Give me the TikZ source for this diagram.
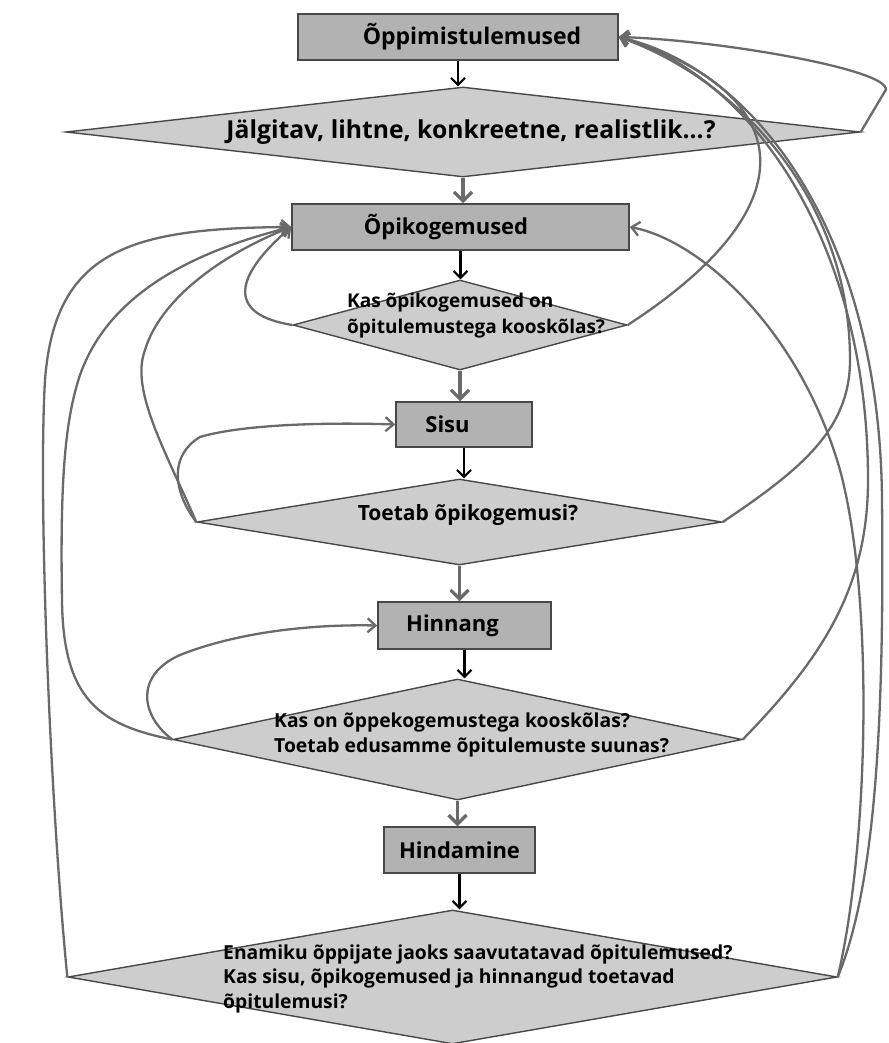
\documentclass[tikz,border=0pt]{standalone}
\usepackage{fontspec}
\setmainfont{Open Sans}
\usetikzlibrary{arrows.meta,shapes.geometric}
\definecolor{boxfill}{HTML}{B2B2B2}
\definecolor{diafill}{HTML}{CDCDCD}
\definecolor{edgecol}{HTML}{484848}
\definecolor{linkcol}{HTML}{6A6A6A}
\tikzset{
  box/.style={draw=edgecol, line width=1.5pt, fill=boxfill, minimum height=46pt, inner sep=0pt,
    font=\bfseries\fontsize{22}{26}\selectfont},
  dia/.style={diamond, draw=edgecol, line width=1.4pt, fill=diafill, inner sep=0pt},
  lab/.style={inner sep=0pt},
  flow/.style={draw=black, line width=2.1pt, -{Straight Barb[length=7pt,width=14pt]}},
  downlink/.style={draw=linkcol, line width=3.2pt, -{Straight Barb[length=9pt,width=18pt]}},
  back/.style={draw=linkcol, line width=2.3pt, -{Straight Barb[length=8pt,width=14pt]}}
}
\begin{document}
\begin{tikzpicture}[x=1pt,y=-1pt]
\useasboundingbox (0,0) rectangle (888,1043);
% boxes
\node[box, minimum width=320pt, font=\bfseries\fontsize{23}{27}\selectfont] (b1) at (458,37) {\hspace*{28pt}Õppimistulemused};
\node[box, minimum width=337pt] (b2) at (460.5,227) {Õpikogemused\hspace*{29pt}};
\node[box, minimum width=136pt, minimum height=45pt] (b3) at (464,424.5) {Sisu\hspace*{33pt}};
\node[box, minimum width=173pt, minimum height=47pt] (b4) at (464.5,625.5) {Hinnang\hspace*{24pt}};
\node[box, minimum width=151pt, minimum height=46pt] (b5) at (459.5,850) {Hindamine};
% diamonds
\node[dia, minimum width=794pt, minimum height=90pt] (d1) at (463,132) {};
\node[dia, minimum width=334pt, minimum height=90pt] (d2) at (460,325) {};
\node[dia, minimum width=525pt, minimum height=86pt] (d3) at (459.5,522) {};
\node[dia, minimum width=569pt, minimum height=121pt] (d4) at (457.5,739.5) {};
\node[dia, minimum width=769pt, minimum height=134pt] (d5) at (452.5,977) {};
% diamond texts
\node[lab, anchor=base, font=\bfseries\fontsize{24.7}{30}\selectfont] (t1) at (471,139) {Jälgitav, lihtne, konkreetne, realistlik...?};
\node[lab, anchor=base west, font=\bfseries\fontsize{19}{26}\selectfont] (t2) at (347,307)
  {\begin{tabular}[t]{@{}l@{}}Kas õpikogemused on\\õpitulemustega kooskõlas?\end{tabular}};
\node[lab, anchor=base, font=\bfseries\fontsize{21}{26}\selectfont] (t3) at (468,520) {Toetab õpikogemusi?};
\node[lab, anchor=base west, font=\bfseries\fontsize{19.3}{25}\selectfont] (t4) at (274,727)
  {\begin{tabular}[t]{@{}l@{}}Kas on õppekogemustega kooskõlas?\\Toetab edusamme õpitulemuste suunas?\end{tabular}};
\node[lab, anchor=base west, font=\bfseries\fontsize{19.3}{24.5}\selectfont] (t5) at (223,959)
  {\begin{tabular}[t]{@{}l@{}}Enamiku õppijate jaoks saavutatavad õpitulemused?\\Kas sisu, õpikogemused ja hinnangud toetavad\\õpitulemusi?\end{tabular}};
% main flow
\draw[flow] (b1.south) -- (b1.south |- d1.north);
\draw[downlink] (d1.south) -- (d1.south |- b2.north);
\draw[flow] (b2.south) -- (b2.south |- d2.north);
\draw[downlink] (d2.south) -- (d2.south |- b3.north);
\draw[flow] (b3.south) -- (b3.south |- d3.north);
\draw[downlink] (d3.south) -- (d3.south |- b4.north);
\draw[flow] (b4.south) -- (b4.south |- d4.north);
\draw[downlink] (d4.south) -- (d4.south |- b5.north);
\draw[flow] (b5.south) -- (b5.south |- d5.north);
% feedback to b1
\draw[back] (d1.east) -- ++(25,-42) .. controls (891,70) and (720,40) .. (b1.east);
\draw[back] (d2.east) .. controls (820,200) and (790,90) .. (b1.east);
\draw[back] (d3.east) .. controls (800,470) and (850,430) .. (850,360) .. controls (850,200) and (740,80) .. (b1.east);
\draw[back] (d4.east) .. controls (820,660) and (868,590) .. (868,480) .. controls (868,240) and (750,75) .. (b1.east);
\draw[back] (d5.east) .. controls (878,880) and (884,700) .. (882,500) .. controls (880,240) and (760,70) .. (b1.east);
% feedback to b2 east
\draw[back] (d5.east) .. controls (868,850) and (875,600) .. (840,470) .. controls (800,330) and (700,240) .. (b2.east);
% feedback to b2 west
\draw[back] (d5.west) .. controls (50,800) and (38,500) .. (45,380) .. controls (55,250) and (130,228) .. (b2.west);
\draw[back] (d4.west) .. controls (100,725) and (63,700) .. (62,600) .. controls (60,480) and (65,420) .. (80,375) .. controls (110,290) and (200,250) .. (b2.west);
\draw[back] (d3.west) .. controls (165,450) and (130,390) .. (145,350) .. controls (160,300) and (220,255) .. (b2.west);
\draw[back] (d2.west) .. controls (230,315) and (230,280) .. (b2.west);
% local loops
\draw[back] (d3.west) .. controls (172,490) and (170,455) .. (200,437) .. controls (240,425) and (320,422) .. (b3.west);
\draw[back] (d4.west) .. controls (140,715) and (135,675) .. (180,655) .. controls (230,635) and (300,624) .. (b4.west);
\end{tikzpicture}
\end{document}
